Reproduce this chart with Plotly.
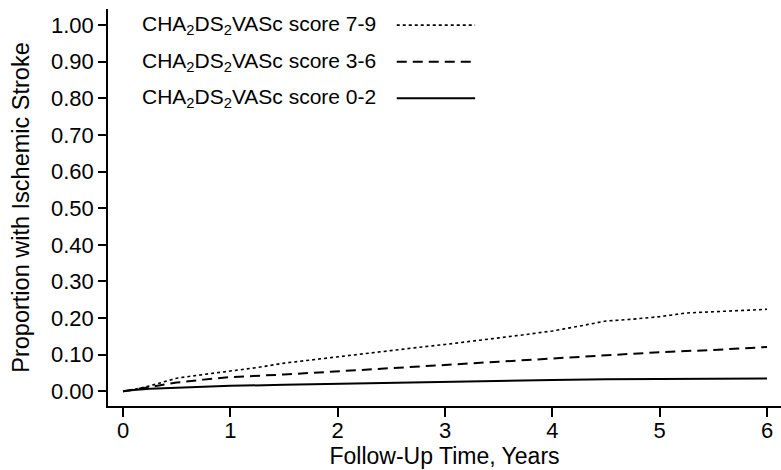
import plotly.graph_objects as go

# Data
t_high = [0, 0.1, 0.25, 0.5, 0.75, 1, 1.25, 1.5, 1.75, 2, 2.25, 2.5, 2.75, 3, 3.25, 3.5,
          3.75, 4, 4.25, 4.5, 4.75, 5, 5.25, 5.5, 5.75, 6]
y_high = [0, 0.005, 0.015, 0.036, 0.046, 0.055, 0.065, 0.077, 0.086, 0.095, 0.103, 0.113,
          0.120, 0.128, 0.136, 0.146, 0.155, 0.165, 0.178, 0.192, 0.197, 0.204, 0.214,
          0.218, 0.220, 0.224]

t_mid = [0, 0.1, 0.25, 0.5, 0.75, 1, 1.5, 2, 2.5, 3, 3.5, 4, 4.5, 5, 5.5, 6]
y_mid = [0, 0.005, 0.012, 0.024, 0.032, 0.039, 0.046, 0.054, 0.064, 0.072, 0.081, 0.090,
         0.098, 0.107, 0.113, 0.121]

t_low = [0, 0.1, 0.25, 0.5, 1, 1.5, 2, 2.5, 3, 3.5, 4, 4.5, 5, 5.5, 6]
y_low = [0, 0.004, 0.007, 0.010, 0.015, 0.018, 0.021, 0.024, 0.027, 0.029, 0.031, 0.033,
         0.034, 0.035, 0.035]

legend_labels = ["CHA<sub>2</sub>DS<sub>2</sub>VASc score 7-9",
                 "CHA<sub>2</sub>DS<sub>2</sub>VASc score 3-6",
                 "CHA<sub>2</sub>DS<sub>2</sub>VASc score 0-2"]
legend_rows = [1.0, 0.9, 0.8]
y_ticks = [round(i * 0.1, 1) for i in range(11)]
x_ticks = [0, 1, 2, 3, 4, 5, 6]

FONT = "Liberation Sans, Arial, Helvetica, sans-serif"

series = [
    (t_high, y_high, dict(color="black", width=1.6, dash="dot")),
    (t_mid, y_mid, dict(color="black", width=2, dash="10px,6px")),
    (t_low, y_low, dict(color="black", width=2, dash="solid")),
]

fig = go.Figure()
for (tx, ty, ln), name in zip(series, legend_labels):
    fig.add_trace(go.Scatter(x=tx, y=ty, mode="lines", line=ln, name=name,
                             showlegend=False, hoverinfo="skip"))

# Custom legend: text then line sample on the right
for (tx, ty, ln), name, row in zip(series, legend_labels, legend_rows):
    fig.add_annotation(x=0.16, y=row, xref="x", yref="y", text=name, showarrow=False,
                       xanchor="left", yanchor="middle",
                       font=dict(family=FONT, size=21, color="black"))
    fig.add_shape(type="line", xref="x", yref="y", x0=2.55, x1=3.28, y0=row, y1=row,
                  line=ln)

fig.update_layout(
    width=781, height=470,
    margin=dict(l=108, r=0, t=9, b=64, autoexpand=False),
    plot_bgcolor="white", paper_bgcolor="white",
    font=dict(family=FONT, size=22, color="black"),
)
fig.update_xaxes(
    range=[-0.14, 6.13], tickvals=x_ticks, ticks="outside", ticklen=9, tickwidth=1.5,
    tickcolor="black", showline=True, linecolor="black", linewidth=1.5,
    showgrid=False, zeroline=False, automargin=False, ticklabelstandoff=-5,
    title=dict(text="Follow-Up Time, Years", standoff=2,
               font=dict(family=FONT, size=23)),
    tickfont=dict(family=FONT, size=22),
)
fig.update_yaxes(
    range=[-0.04, 1.044], tickvals=y_ticks, tickformat=".2f", ticks="outside", ticklen=8,
    tickwidth=1.5, tickcolor="black", showline=True, linecolor="black", linewidth=1.5,
    showgrid=False, zeroline=False, automargin=False,
    title=dict(text="Proportion with Ischemic Stroke", standoff=15,
               font=dict(family=FONT, size=23.5)),
    tickfont=dict(family=FONT, size=22),
)

fig.write_html(
    "out.html",
    config={"displayModeBar": False},
    post_script="document.body.style.margin='0';document.body.style.overflow='hidden';",
)
